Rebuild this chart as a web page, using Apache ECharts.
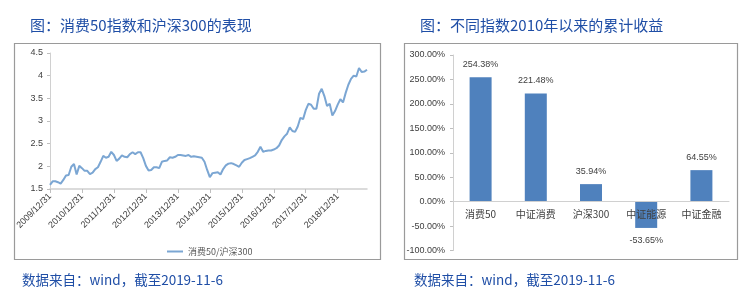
<!DOCTYPE html>
<html>
<head>
<meta charset="utf-8">
<script src="https://cdn.jsdelivr.net/npm/echarts@6/dist/echarts.min.js"></script>
<style>
html,body{margin:0;padding:0;background:#fff;}
#c{width:756px;height:293px;}
</style>
</head>
<body>
<div id="c"></div>
<script>
// ---- Left chart: 消费50/沪深300 ratio, monthly from 2009/12 to 2019/11 ----
const ratioStart = [2009, 12];
const ratioValues = [
  1.59,1.67,1.67,1.65,1.62,1.70,1.80,1.81,1.99,2.05,1.82,2.01,
  1.96,1.90,1.90,1.83,1.86,1.94,1.98,2.10,2.23,2.19,2.21,2.32,
  2.25,2.12,2.17,2.24,2.21,2.20,2.27,2.31,2.27,2.31,2.31,2.18,
  2.01,1.91,1.92,1.98,1.98,1.96,2.10,2.12,2.13,2.20,2.19,2.21,
  2.25,2.25,2.24,2.23,2.25,2.21,2.22,2.21,2.20,2.19,2.10,1.92,
  1.76,1.85,1.86,1.87,1.82,1.94,2.02,2.06,2.07,2.05,2.02,1.99,
  2.08,2.14,2.16,2.18,2.21,2.24,2.32,2.43,2.32,2.34,2.35,2.35,
  2.37,2.40,2.46,2.58,2.66,2.72,2.86,2.78,2.76,2.88,3.07,3.04,
  3.24,3.38,3.36,3.27,3.27,3.60,3.71,3.55,3.33,3.38,3.12,3.22,
  3.36,3.48,3.41,3.62,3.80,3.93,4.00,3.98,4.17,4.08,4.09,4.13
];
const ratioSeriesName = '消费50/沪深300';
const leftYTicks = {min: 1.5, max: 4.5, interval: 0.5};

// ---- Right chart: cumulative returns since 2010 ----
const indexNames = ['消费50', '中证消费', '沪深300', '中证能源', '中证金融'];
const indexReturns = [254.38, 221.48, 35.94, -53.65, 64.55];
const rightYTicks = {min: -100, max: 300, interval: 50};

// build month-end date categories
function monthEnd(y, m) { return new Date(y, m, 0).getDate(); }
const ratioDates = [];
{
  let y = ratioStart[0], m = ratioStart[1];
  for (let i = 0; i < ratioValues.length; i++) {
    ratioDates.push(y + '/' + m + '/' + monthEnd(y, m));
    m++; if (m > 12) { m = 1; y++; }
  }
}

const titleColor = '#1f4ea6';
const axisText = '#404040';
const cjk = '"Microsoft YaHei","Noto Sans CJK SC",sans-serif';

// right grid geometry: zero line offset from the bottom of the grid
const rGridTop = 55, rGridHeight = 195.6;
const zeroOffset = rGridHeight * (0 - rightYTicks.min) / (rightYTicks.max - rightYTicks.min);

const chart = echarts.init(document.getElementById('c'), null, {renderer: 'canvas'});
chart.setOption({
  animation: false,
  backgroundColor: '#ffffff',
  textStyle: {fontFamily: cjk},
  title: [
    {text: '图：消费50指数和沪深300的表现', left: 25, top: 13,
     textStyle: {color: titleColor, fontSize: 15, fontWeight: 'normal', fontFamily: cjk}},
    {text: '图：不同指数2010年以来的累计收益', left: 415, top: 13,
     textStyle: {color: titleColor, fontSize: 15, fontWeight: 'normal', fontFamily: cjk}},
    {text: '数据来自：wind，截至2019-11-6', left: 17, top: 268,
     textStyle: {color: titleColor, fontSize: 13.5, fontWeight: 'normal', fontFamily: cjk}},
    {text: '数据来自：wind，截至2019-11-6', left: 409, top: 268,
     textStyle: {color: titleColor, fontSize: 13.5, fontWeight: 'normal', fontFamily: cjk}}
  ],
  graphic: [
    {type: 'rect', shape: {x: 14.5, y: 43.5, width: 366, height: 216}, silent: true,
     style: {fill: 'none', stroke: '#9a9a9a', lineWidth: 1.2}},
    {type: 'rect', shape: {x: 404.5, y: 43.5, width: 333, height: 216}, silent: true,
     style: {fill: 'none', stroke: '#9a9a9a', lineWidth: 1.2}}
  ],
  legend: {
    data: [ratioSeriesName], left: 162, top: 242,
    icon: 'rect', itemWidth: 16, itemHeight: 2, itemGap: 4,
    textStyle: {color: '#595959', fontSize: 9}
  },
  grid: [
    {left: 50, top: 53, width: 317, height: 136},
    {left: 453, top: rGridTop, width: 276, height: rGridHeight}
  ],
  xAxis: [
    {type: 'category', gridIndex: 0, data: ratioDates, boundaryGap: false,
     axisLine: {lineStyle: {color: '#d0d0d0', width: 1.5}},
     axisTick: {interval: 11, length: 4, lineStyle: {color: '#bfbfbf'}},
     axisLabel: {interval: 11, rotate: 45, fontSize: 9, color: axisText, margin: 6, fontFamily: 'Liberation Sans'},
     splitLine: {show: false}},
    {type: 'category', gridIndex: 1, data: indexNames, position: 'bottom', offset: -zeroOffset, z: 5,
     axisLine: {onZero: false, lineStyle: {color: '#d0d0d0', width: 1}},
     axisTick: {length: 4, lineStyle: {color: '#bfbfbf'}},
     axisLabel: {fontSize: 10, color: axisText, margin: 8}}
  ],
  yAxis: [
    {type: 'value', gridIndex: 0, min: leftYTicks.min, max: leftYTicks.max, interval: leftYTicks.interval,
     axisLine: {show: true, lineStyle: {color: '#d0d0d0'}},
     axisTick: {show: true, length: 3, lineStyle: {color: '#bfbfbf'}},
     axisLabel: {fontSize: 9, color: axisText, margin: 7, fontFamily: 'Liberation Sans'},
     splitLine: {show: false}},
    {type: 'value', gridIndex: 1, min: rightYTicks.min, max: rightYTicks.max, interval: rightYTicks.interval,
     axisLine: {show: true, lineStyle: {color: '#d0d0d0'}},
     axisTick: {show: true, length: 3, lineStyle: {color: '#bfbfbf'}},
     axisLabel: {fontSize: 9, color: axisText, margin: 8, fontFamily: 'Liberation Sans',
       formatter: v => v.toFixed(2) + '%'},
     splitLine: {show: false}}
  ],
  series: [
    {name: ratioSeriesName, type: 'line', xAxisIndex: 0, yAxisIndex: 0, data: ratioValues,
     symbol: 'none', smooth: false, z: 3,
     lineStyle: {color: '#7ba6d3', width: 2}, itemStyle: {color: '#7ba6d3'}},
    {name: '累计收益', type: 'bar', xAxisIndex: 1, yAxisIndex: 1, data: indexReturns,
     barWidth: 22, itemStyle: {color: '#4f81bd'}, z: 2,
     label: {show: true, position: 'outside', distance: 8, fontSize: 9, color: axisText,
       fontFamily: 'Liberation Sans', formatter: p => p.value.toFixed(2) + '%'}}
  ]
});
</script>
</body>
</html>
